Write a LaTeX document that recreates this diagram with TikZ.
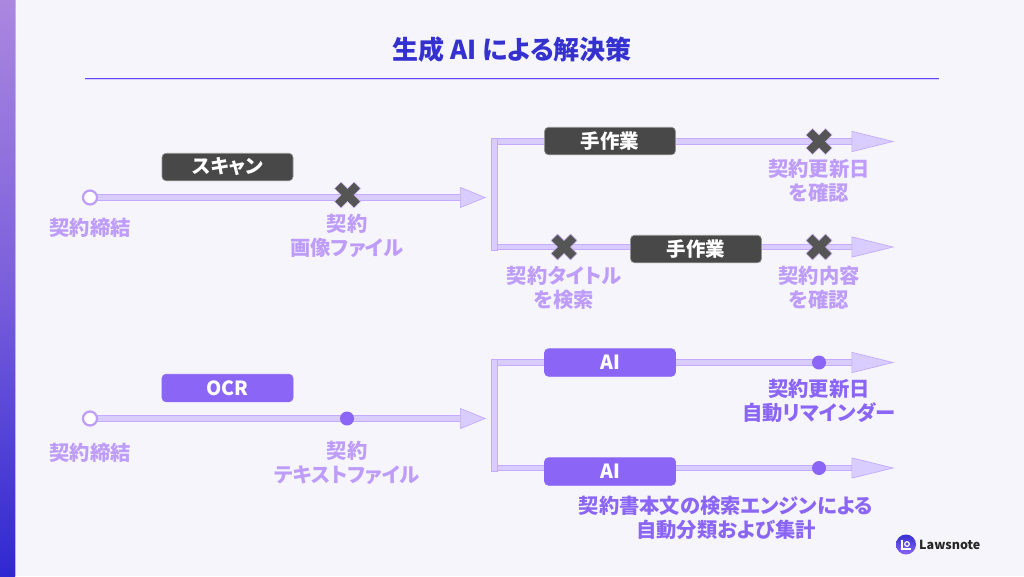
\documentclass[tikz,border=0pt]{standalone}
\usepackage{fontspec}
\usetikzlibrary{arrows.meta,calc}
\setmainfont[RawFeature={+palt}]{Noto Sans CJK JP}
\definecolor{bgc}{HTML}{F5F5FB}
\definecolor{bandfill}{HTML}{D9CDFF}
\definecolor{bandline}{HTML}{C4ABFF}
\definecolor{lab}{HTML}{BE9CFA}
\definecolor{vio}{HTML}{8B66F6}
\definecolor{dark}{HTML}{484848}
\definecolor{crossc}{HTML}{555555}
\definecolor{titlec}{HTML}{3530D0}
\definecolor{bartop}{HTML}{AB87DF}
\definecolor{barmid}{HTML}{7A5FDC}
\definecolor{barbot}{HTML}{3028D0}
\tikzset{
  x=1pt,y=-1pt,
  lbl/.style={text=lab,font=\fontsize{20.3}{24}\selectfont\bfseries,align=center,inner sep=0pt},
  lbldark/.style={lbl,text=vio},
  boxd/.style={draw=gray!85,line width=.6pt,fill=dark,rounded corners=4pt,minimum width=131pt,minimum height=27.5pt,inner sep=0pt,text=white,font=\fontsize{19.5}{20}\selectfont\bfseries},
  boxv/.style={boxd,draw=vio,fill=vio},
  shaft/.style={draw=bandline,double=bandfill,double distance=4.6pt,line width=1pt},
  bracket/.style={draw=bandline,fill=bandfill,line width=.9pt},
  headtip/.style={draw=bandline,line width=.7pt,-{Triangle[length=#1,width=21pt,fill=bandfill,line width=.7pt]}},
  headtip/.default=43pt,
  ring/.style={circle,draw=lab,fill=white,line width=2.2pt,minimum size=14pt,inner sep=0pt},
  dotn/.style={circle,fill=vio,minimum size=14pt,inner sep=0pt},
  xm/.pic={\draw[draw=lab!70,fill=crossc,line width=.6pt,pic actions]
    (-13,-6.5)--(-6.5,-13)--(0,-6.5)--(6.5,-13)--(13,-6.5)--(6.5,0)--(13,6.5)--(6.5,13)--(0,6.5)--(-6.5,13)--(-13,6.5)--(-6.5,0)--cycle;},
}
\begin{document}
\begin{tikzpicture}
\useasboundingbox (0,0) rectangle (1024,576);
\fill[bgc] (0,0) rectangle (1024,576);
\shade[top color=bartop,bottom color=barbot,middle color=barmid] (0,0) rectangle (15,576);
\draw[bandline,line width=.6pt] (15.3,0) -- (15.3,576);
\node[text=titlec,font=\fontsize{26}{28}\selectfont\bfseries,inner sep=0pt] (title) at (512,50) {生成 AI による解決策};
\coordinate (ruleL) at (85,78.5); \coordinate (ruleR) at (939,78.5);
\draw[bandfill,line width=2pt] (ruleL) -- (ruleR);
\draw[vio!70!blue,line width=.9pt] (ruleL) -- (ruleR);

% coordinates, upper flow
\coordinate (a1) at (90,197.5);
\coordinate (a2) at (486,197.5);
\coordinate (a2s) at (460,197.5);
\coordinate (b1) at (497,141.5);
\coordinate (b2) at (497,247);
\coordinate (c1e) at (894.5,141.5);
\coordinate (c1s) at (851,141.5);
\coordinate (c2e) at (894.5,247);
\coordinate (c2s) at (851,247);
% lower flow
\coordinate (d1) at (90,418.5);
\coordinate (d2) at (486,418.5);
\coordinate (d2s) at (460,418.5);
\coordinate (e1) at (497,362.5);
\coordinate (e2) at (497,468);
\coordinate (f1e) at (894.5,362.5);
\coordinate (f1s) at (851,362.5);
\coordinate (f2e) at (894.5,468);
\coordinate (f2s) at (851,468);

% shafts
\draw[shaft] (a1) -- (a2s);
\draw[headtip=26pt] (a2s) -- (a2);
\draw[shaft] ($(c1s)+(1,0)$) -- (b1);
\draw[shaft] (b2) -- ($(c2s)+(1,0)$);
\draw[bracket] (491.5,138.5) rectangle (497,250);
\draw[headtip] (c1s) -- (c1e);
\draw[headtip] (c2s) -- (c2e);
\draw[shaft] (d1) -- (d2s);
\draw[headtip=26pt] (d2s) -- (d2);
\draw[shaft] ($(f1s)+(1,0)$) -- (e1);
\draw[shaft] (e2) -- ($(f2s)+(1,0)$);
\draw[bracket] (491.5,359.5) rectangle (497,471);
\draw[headtip] (f1s) -- (f1e);
\draw[headtip] (f2s) -- (f2e);

% upper nodes
\node[ring] (s1) at (a1) {};
\node[boxd] (scan) at (227.5,167) {スキャン};
\pic at (347.5,195) {xm};
\node[lbl] (l1) at (90,228) {契約締結};
\node[lbl] (l2) at (347,236) {契約\\画像ファイル};
\node[boxd] (m1) at (610,141) {手作業};
\node[boxd] (m2) at (696,249) {手作業};
\pic at (819,141.5) {xm};
\pic at (564,247) {xm};
\pic at (819,247) {xm};
\node[lbl] (l3) at (819,181) {契約更新日\\を確認};
\node[lbl] (l4) at (564,288) {契約タイトル\\を検索};
\node[lbl] (l5) at (819,288) {契約内容\\を確認};

% lower nodes
\node[ring] (s2) at (d1) {};
\node[boxv] (ocr) at (227.5,388) {OCR};
\node[dotn] (dt1) at (347,418.5) {};
\node[lbl] (l6) at (90,453) {契約締結};
\node[lbl] (l7) at (347,462.5) {契約\\テキストファイル};
\node[boxv] (ai1) at (610,362.5) {AI};
\node[boxv] (ai2) at (610,471.5) {AI};
\node[dotn] (dt2) at (819,362.5) {};
\node[dotn] (dt3) at (819,468) {};
\node[lbldark] (l8) at (819,400.5) {契約更新日\\自動リマインダー};
\node[lbldark] (l9) at (726,517.5) {契約書本文の検索エンジンによる\\自動分類および集計};

% logo
\shade[top color=titlec,bottom color=vio] (906,544.5) circle (10);
\draw[white,line width=1.3pt] (902,539.5) -- (902,549) -- (911,549);
\draw[white,line width=1.2pt] (907,544) circle (2.3);
\node[anchor=west,inner sep=0pt,text=black!85,font=\fontsize{12.5}{14}\selectfont\bfseries] (logo) at (919,545) {Lawsnote};
\end{tikzpicture}
\end{document}
